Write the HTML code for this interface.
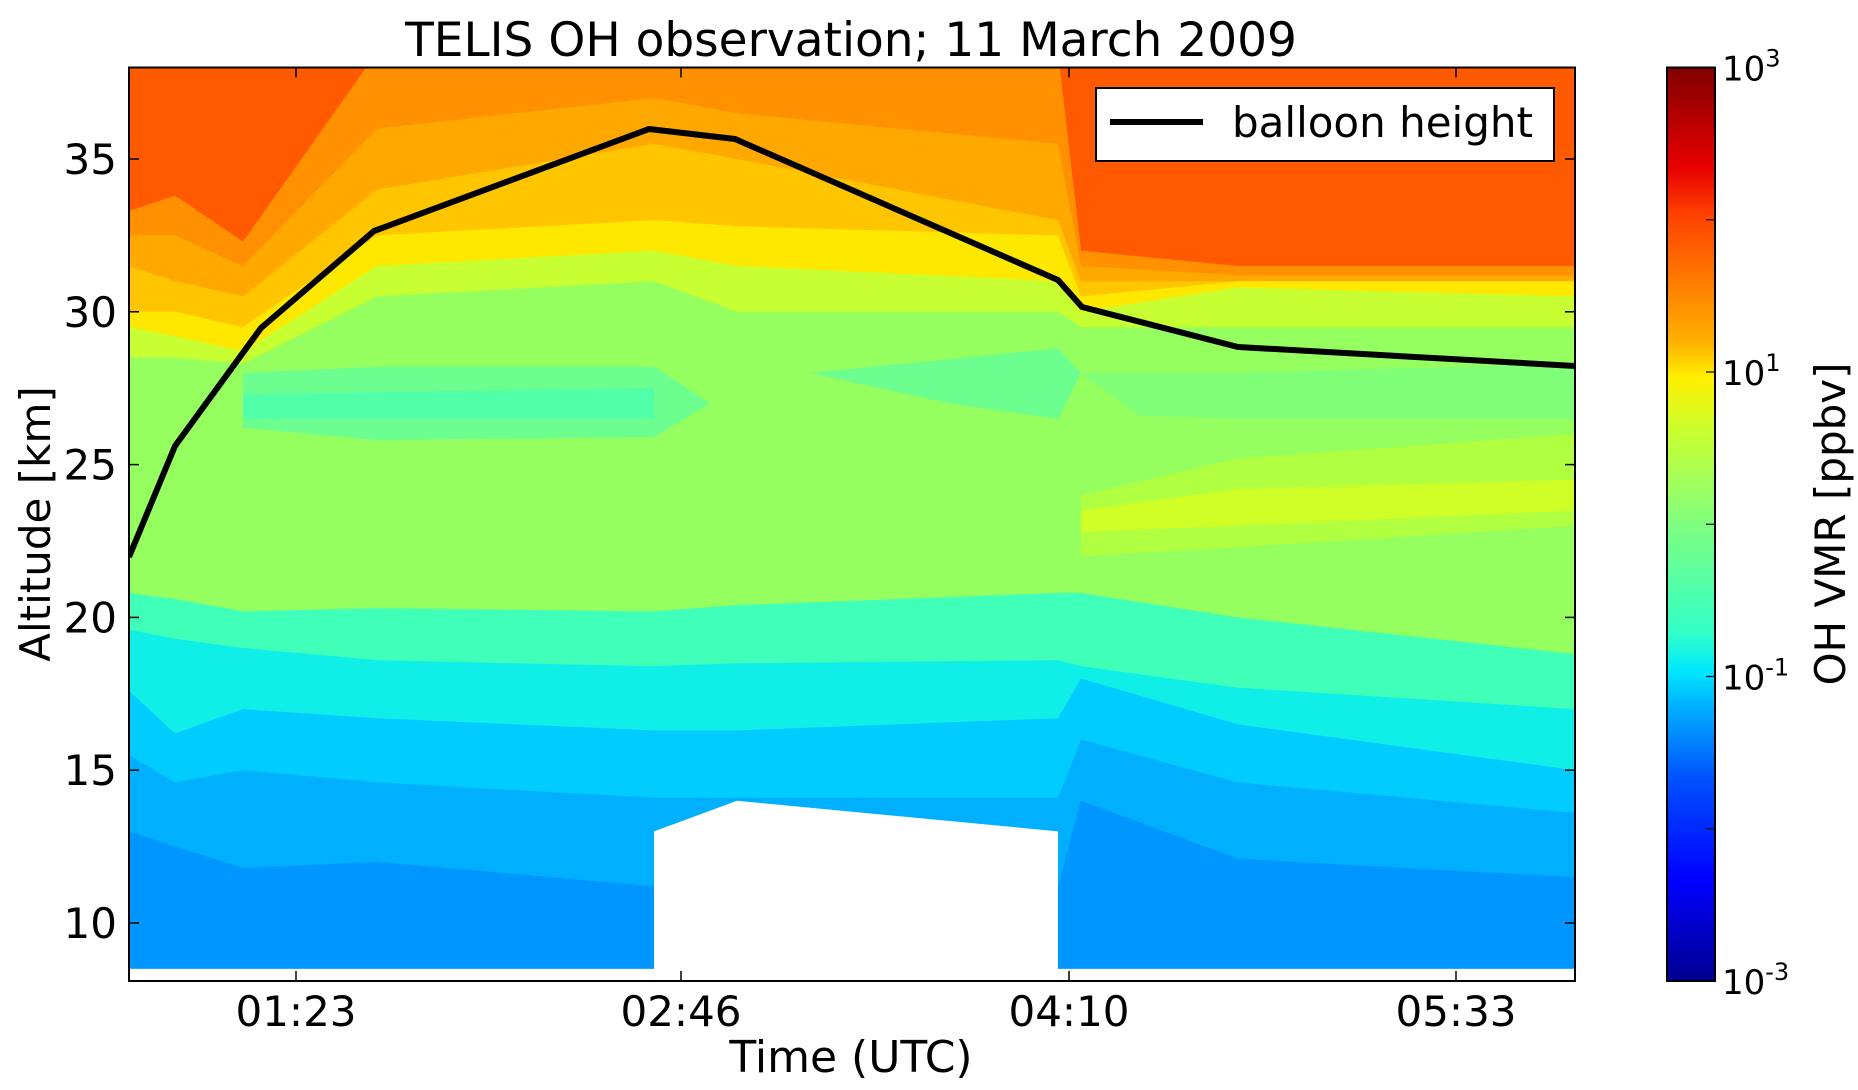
<!DOCTYPE html>
<html><head><meta charset="utf-8"><style>
html,body{margin:0;padding:0;background:#fff;}
svg{display:block;font-family:"DejaVu Sans","Liberation Sans",sans-serif;}
</style></head><body>
<svg id="s" width="1858" height="1090" xmlns="http://www.w3.org/2000/svg">
<defs>
<linearGradient id="jet" x1="0" y1="1" x2="0" y2="0">
<stop offset="0" stop-color="#00008f"/>
<stop offset="0.11" stop-color="#0000ff"/>
<stop offset="0.22" stop-color="#0050ff"/>
<stop offset="0.30" stop-color="#00b0ff"/>
<stop offset="0.34" stop-color="#00e8ff"/>
<stop offset="0.38" stop-color="#30ffc8"/>
<stop offset="0.50" stop-color="#80ff80"/>
<stop offset="0.60" stop-color="#c8ff30"/>
<stop offset="0.66" stop-color="#fff000"/>
<stop offset="0.70" stop-color="#ffb000"/>
<stop offset="0.78" stop-color="#ff7000"/>
<stop offset="0.84" stop-color="#ff4000"/>
<stop offset="0.89" stop-color="#e80000"/>
<stop offset="1" stop-color="#800000"/>
</linearGradient>
<clipPath id="pc"><rect x="129" y="67.5" width="1446" height="913.5"/></clipPath>
</defs>
<g id="field" clip-path="url(#pc)"></g>
<g id="over"></g>
</svg>
<script>
const NS="http://www.w3.org/2000/svg";
const f=document.getElementById('field'), o=document.getElementById('over');
function Y(a){return 923-(a-10)*30.56;}
function el(p,tag,attrs,txt){const e=document.createElementNS(NS,tag);for(const k in attrs)e.setAttribute(k,attrs[k]);if(txt!==undefined)e.textContent=txt;p.appendChild(e);return e;}
const X=[129,175,243,377,654,737,1058,1081,1238,1575];
const cols=["#ff5a00","#ff9000","#ffa800","#ffc600","#ffe800","#c8ff33","#96ff60","#40ffb8","#10eee8","#00ccff","#00b0ff","#0096ff"];
const B=[
[33.3,33.8,32.3,38.5,38.5,38.5,38.5,32.0,31.5,31.5],
[32.5,32.5,31.5,36,37,36.5,35.5,31.5,31.2,31.2],
[31.5,31,30.5,34,35.5,35,33,31,31,31],
[30,30,29.5,32.5,33,32.8,32.5,30.5,31,31],
[29.5,29.2,28.7,31.5,32,31.5,31,30,30.8,30.5],
[28.5,28.5,28.3,30.5,31,30,30,29.5,29.5,29.5],
[20.8,20.6,20.2,20.3,20.2,20.4,20.8,20.8,20,18.8],
[19.6,19.3,19,18.6,18.4,18.5,18.6,18.4,17.7,17],
[17.6,16.2,17,16.7,16.3,16.3,16.7,18,16.5,15],
[15.5,14.6,15,14.6,14.1,14.1,14.1,16,14.6,13.6],
[13,12.5,11.8,12,11.2,11.2,11.2,14,12.1,11.5]];
el(f,'rect',{x:129,y:0,width:1446,height:1000,fill:cols[0]});
B.forEach((b,i)=>{let p=X.map((x,j)=>x+','+Y(b[j])).join(' ');p+=' 1575,1000 129,1000';el(f,'polygon',{points:p,fill:cols[i+1]});});
el(f,'polygon',{points:[[243,28],[377,28.2],[654,28.2],[710,27],[654,25.9],[377,25.8],[243,26.2]].map(a=>a[0]+','+Y(a[1])).join(' '),fill:'#6cff90'});
el(f,'polygon',{points:[[243,27.3],[654,27.5],[654,26.5],[243,26.5]].map(a=>a[0]+','+Y(a[1])).join(' '),fill:'#50ffa8'});
el(f,'polygon',{points:[[810,28],[1058,28.8],[1081,28],[1058,26.5],[950,27]].map(a=>a[0]+','+Y(a[1])).join(' '),fill:'#6cff90'});
el(f,'polygon',{points:[[1081,28],[1238,28],[1575,28.3],[1575,26.5],[1238,26.5],[1140,26.6]].map(a=>a[0]+','+Y(a[1])).join(' '),fill:'#80ff78'});
el(f,'polygon',{points:[[1081,24],[1238,25.2],[1575,26],[1575,23],[1238,22.3],[1081,22]].map(a=>a[0]+','+Y(a[1])).join(' '),fill:'#b0ff40'});
el(f,'polygon',{points:[[1081,23.5],[1238,24.2],[1575,24.5],[1575,23.5],[1238,23],[1081,22.8]].map(a=>a[0]+','+Y(a[1])).join(' '),fill:'#d0ff28'});
el(f,'rect',{x:129,y:Y(8.5),width:1446,height:100,fill:'#fff'});
el(f,'polygon',{points:[[654,13],[737,14],[1058,13],[1058,7],[654,7]].map(a=>a[0]+','+Y(a[1])).join(' '),fill:'#fff'});
el(f,'polyline',{points:"129,557 175,446 261,328 374,231 649,129 735,139 1058,280 1082,307 1238,347 1575,366",fill:'none',stroke:'#000','stroke-width':6,'stroke-linejoin':'round'});
el(o,'rect',{x:129,y:67.5,width:1446,height:913.5,fill:'none',stroke:'#000','stroke-width':2});
[10,15,20,25,30,35].forEach(a=>{const y=Y(a);el(o,'line',{x1:129,y1:y,x2:139,y2:y,stroke:'#000','stroke-width':1.5});el(o,'line',{x1:1565,y1:y,x2:1575,y2:y,stroke:'#000','stroke-width':1.5});el(o,'text',{x:117,y:y+15,'font-size':42,'text-anchor':'end'},a);});
[[296,'01:23'],[681,'02:46'],[1069,'04:10'],[1456,'05:33']].forEach(t=>{el(o,'line',{x1:t[0],y1:981,x2:t[0],y2:971,stroke:'#000','stroke-width':1.5});el(o,'line',{x1:t[0],y1:67.5,x2:t[0],y2:77.5,stroke:'#000','stroke-width':1.5});el(o,'text',{x:t[0],y:1026,'font-size':42,'text-anchor':'middle'},t[1]);});
el(o,'text',{x:851,y:56,'font-size':47,'text-anchor':'middle'},'TELIS OH observation; 11 March 2009');
el(o,'text',{x:851,y:1072,'font-size':44,'text-anchor':'middle'},'Time (UTC)');
el(o,'text',{x:0,y:0,'font-size':42,'text-anchor':'middle',transform:'translate(50,524) rotate(-90)'},'Altitude [km]');
el(o,'rect',{x:1096,y:88,width:458,height:73,fill:'#fff',stroke:'#000','stroke-width':2});
el(o,'line',{x1:1110,y1:122,x2:1203,y2:122,stroke:'#000','stroke-width':6});
el(o,'text',{x:1232,y:137,'font-size':42},'balloon height');
el(o,'rect',{x:1667,y:67.5,width:48,height:913.5,fill:'url(#jet)',stroke:'#000','stroke-width':2});
for(let i=0;i<=6;i++){const y=67.5+913.5*i/6;el(o,'line',{x1:1706,y1:y,x2:1715,y2:y,stroke:'#000','stroke-width':1.2});}
[[67.5,'3'],[372,'1'],[676.5,'-1'],[981,'-3']].forEach(t=>{const tx=el(o,'text',{x:1722,y:t[0]+13,'font-size':34},'10');el(tx,'tspan',{dy:-14,'font-size':24},t[1]);});
el(o,'text',{x:0,y:0,'font-size':42,'text-anchor':'middle',transform:'translate(1845,524) rotate(-90)'},'OH VMR [ppbv]');
</script>
</body></html>
